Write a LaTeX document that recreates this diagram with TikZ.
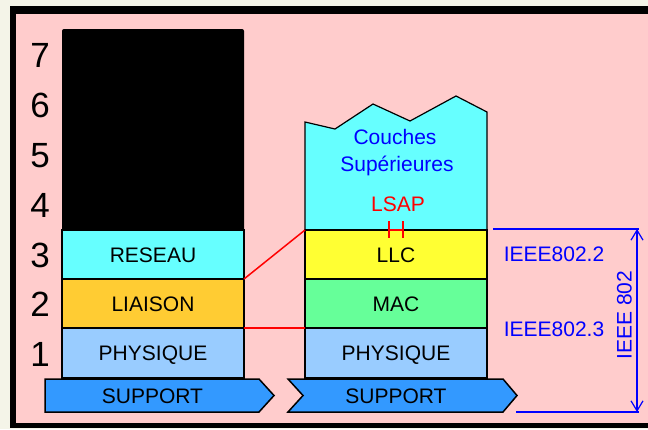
\documentclass[tikz,border=0pt]{standalone}
\usepackage{fontspec}
\setmainfont{Liberation Sans}
\usetikzlibrary{arrows.meta, positioning, calc}
\definecolor{fondcreme}{HTML}{F4F4E8}
\definecolor{fondrose}{HTML}{FFCCCC}
\definecolor{cyanclair}{HTML}{66FFFF}
\definecolor{jaunellc}{HTML}{FFFF33}
\definecolor{orangeliaison}{HTML}{FFCC33}
\definecolor{vertmac}{HTML}{66FF99}
\definecolor{bleuphys}{HTML}{99CCFF}
\definecolor{bleusupport}{HTML}{3399FF}
\definecolor{bleutexte}{HTML}{0000FF}
\definecolor{rouge}{HTML}{FF0000}
\tikzset{
    layer/.style={rectangle, draw=black, line width=1.5pt, minimum width=182pt, minimum height=49pt, inner sep=0pt, outer sep=0pt, text centered, font=\fontsize{21}{25}\selectfont, text height=15pt, text depth=0pt},
    txt/.style={inner sep=0pt, font=\fontsize{21}{25}\selectfont, text height=15pt, text depth=0pt},
    bluetxt/.style={txt, text=bleutexte},
    num/.style={inner sep=0pt, font=\fontsize{35}{40}\selectfont, text height=25pt, text depth=0pt},
    support/.style={draw=black, line width=1.5pt, fill=bleusupport, line join=miter},
    redline/.style={draw=rouge, line width=1.5pt},
    dimline/.style={draw=bleutexte, line width=1.2pt}
}
\begin{document}
\begin{tikzpicture}[x=1pt, y=-1pt]
        % Background and frame
        \fill[fondcreme] (0,0) rectangle (648,429);
        \useasboundingbox (0,0) rectangle (648,429);
        \fill[black] (10,6) rectangle (648,428);
        \fill[fondrose] (16,14) rectangle (648,423);

        % Layer numbers
        \node (n7) [num] at (40,55) {7};
        \node (n6) [num] at (40,105) {6};
        \node (n5) [num] at (40,155) {5};
        \node (n4) [num] at (40,205) {4};
        \node (n3) [num] at (40,254.5) {3};
        \node (n2) [num] at (40,303.5) {2};
        \node (n1) [num] at (40,354) {1};

        % Left stack
        \fill[black, rounded corners=2pt] (62,29) rectangle (244,231);
        \node (reseau) [layer, fill=cyanclair] at (153,254.5) {RESEAU};
        \node (liaison) [layer, fill=orangeliaison] at (153,303.5) {LIAISON};
        \node (physg) [layer, fill=bleuphys, minimum height=50pt] at (153,353) {PHYSIQUE};

        % Right stack
        \filldraw[fill=cyanclair, draw=black, line width=1.2pt, line join=miter] (305,230) -- (305,122) -- (335,129) -- (373,104) -- (410,121) -- (456,96) -- (487,112) -- (487,230) -- cycle;
        \node (couches) [bluetxt] at (395,137) {Couches};
        \node (superieures) [bluetxt] at (397,164) {Supérieures};
        \node (lsap) [txt, text=rouge] at (398,203.5) {LSAP};
        \node (llc) [layer, fill=jaunellc] at (396,254.5) {LLC};
        \node (mac) [layer, fill=vertmac] at (396,303.5) {MAC};
        \node (physd) [layer, fill=bleuphys, minimum height=50pt] at (396,353) {PHYSIQUE};

        % SAP symbol
        \draw[redline] (389,221) -- (389,238) (403,221) -- (403,238) (389,230) -- (403,230);

        % Supports
        \filldraw[support] (45,379) -- (259,379) -- (274,395.5) -- (259,412) -- (45,412) -- cycle;
        \node (supg) [txt] at (152.5,395.5) {SUPPORT};
        \filldraw[support] (288,379) -- (503,379) -- (517,395.5) -- (503,412) -- (288,412) -- (303,395.5) -- cycle;
        \node (supd) [txt] at (396,395.5) {SUPPORT};

        % Connections
        \draw[redline] (liaison.north east) -- (llc.north west);
        \draw[redline] (liaison.south east) -- (mac.south west);

        % IEEE 802 extent
        \coordinate (hautdim) at (637,229);
        \coordinate (basdim) at (637,412);
        \draw[dimline] (493,229) -- (639,229);
        \draw[dimline] (516,412) -- (639,412);
        \draw[dimline, {Straight Barb[length=10pt,width=12pt]}-{Straight Barb[length=10pt,width=12pt]}] (hautdim) -- (basdim);
        \node (ieee2) [bluetxt] at (554,253.5) {IEEE802.2};
        \node (ieee3) [bluetxt] at (554,329) {IEEE802.3};
        \node (ieee) [bluetxt, rotate=90] at (624,315) {IEEE 802};
    \end{tikzpicture}
\end{document}
